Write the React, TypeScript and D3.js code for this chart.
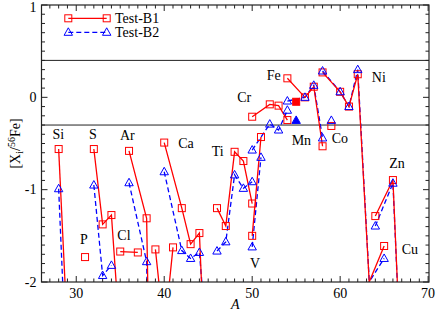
import React from "react";
import * as d3 from "d3";

// ---- data ----
const elements = ["Si", "P", "S", "Cl", "Ar", "K", "Ca", "Ti", "V", "Cr", "Fe", "Co", "Ni", "Cu", "Zn"];
const massNumbers: number[][] = [
  [28, 29], [31], [32, 33, 34, 36], [35, 37], [36, 38, 40], [39, 40, 41],
  [40, 42, 43, 44, 46], [46, 47, 48, 49, 50], [50, 51], [50, 52, 53, 54],
  [54, 56, 57, 58], [59], [58, 60, 61, 62, 64], [63, 65], [64, 66, 67],
];
const testB1: (number | null)[][] = [
  [-0.56, -2.56], [-1.73], [-0.56, -1.376, -1.275, -4.0], [-1.67, -1.68], [-0.58, -1.31, -12],
  [-1.647, -2.55, -1.625], [-0.49, -1.2, -1.59, -1.47, -6], [-1.2, -1.394, -0.59, -0.69, -1.15],
  [-1.5, -0.43], [-0.21, -0.076, -0.09, -0.246], [0.206, 0.0, 0.115, -0.53], [-0.31],
  [0.27, 0.06, -0.1, 0.25, -3.2], [-2.07, -1.61], [-1.286, -0.896, -3.1],
];
const testB2: (number | null)[][] = [
  [-0.99, -3.2], [null], [-0.95, -1.93, -1.82, null], [null, null], [-0.925, -1.78, -12],
  [null, null, null], [-0.806, -1.66, -1.745, -1.68, -4], [-1.665, -1.565, -0.84, -0.986, -0.914],
  [-1.62, -0.65], [-0.571, -0.29, -0.354, -0.14], [-0.04, 0.0, 0.13, -0.44], [-0.25],
  [0.285, 0.06, -0.1, 0.3, -3.2], [-2.045, -1.745], [-1.394, -0.93, -3.1],
];
const mnMass = 55;
const mnB1 = -0.048;
const mnB2 = -0.25;
const refLines = [0.4, -0.3];
const xTickLabels = [30, 40, 50, 60, 70];
const yTickLabels = [1, 0, -1, -2];
const seriesNames = ["Test-B1", "Test-B2"];
// element label anchors (A, value)
const labelA = [27.3, 30.43, 31.45, 34.67, 34.97, null, 41.6, 45.4, 49.75, 48.3, 51.65, 59.04, 63.6, 67.0, 65.59];
const labelV = [-0.452, -1.589, -0.452, -1.546, -0.463, null, -0.549, -0.636, -1.849, -0.046, 0.187, -0.495, 0.166, -1.698, -0.766];
const extraLabel = { text: "Mn", a: 54.49, v: -0.517 };

const W = 436, H = 311;
const L = 41.5, R = 429, T = 5, B = 282;
const RED = "#ff0000", BLUE = "#0000ff";
const FONT = "'Liberation Serif', 'Times New Roman', serif";

export default function App() {
  const x = d3.scaleLinear().domain([26.05, 70.1]).range([L, R]);
  const y = d3.scaleLinear().domain([-2, 1]).range([B, T]);
  const line = d3.line<[number, number | null]>()
    .defined((d) => d[1] !== null)
    .x((d) => x(d[0]))
    .y((d) => y(d[1] as number));

  const sq = (cx: number, cy: number, key: string, filled = false) => (
    <rect key={key} x={cx - 3.5} y={cy - 3.5} width={7} height={7}
      fill={filled ? RED : "none"} stroke={RED} strokeWidth={1} />
  );
  const tri = (cx: number, cy: number, key: string, filled = false) => (
    <path key={key} d={`M${cx},${cy - 4.5}L${cx + 4.2},${cy + 3}L${cx - 4.2},${cy + 3}Z`}
      fill={filled ? BLUE : "none"} stroke={BLUE} strokeWidth={1} />
  );

  const xMinor = d3.range(27, 71, 1);
  const yMinor = d3.range(-20, 11, 1).map((v) => v / 10);

  return (
    <svg width={W} height={H} style={{ position: "absolute", left: 0, top: 0 }}>
      <defs>
        <clipPath id="plot"><rect x={L} y={T} width={R - L} height={B - T} /></clipPath>
      </defs>
      <rect x={0} y={0} width={W} height={H} fill="#fff" />
      {/* reference lines */}
      {refLines.map((v) => (
        <line key={v} x1={L} x2={R} y1={y(v)} y2={y(v)} stroke="#222" strokeWidth={1} />
      ))}
      <g clipPath="url(#plot)">
        {massNumbers.map((ms, i) => {
          const d2 = ms.map((m, j) => [m, testB2[i][j]] as [number, number | null]);
          return <path key={"b2" + i} d={line(d2) || ""} fill="none" stroke={BLUE} strokeWidth={1.3} strokeDasharray="5,3" />;
        })}
        {massNumbers.map((ms, i) => {
          const d1 = ms.map((m, j) => [m, testB1[i][j]] as [number, number | null]);
          return <path key={"b1" + i} d={line(d1) || ""} fill="none" stroke={RED} strokeWidth={1.3} />;
        })}
        {massNumbers.map((ms, i) => ms.map((m, j) => {
          const v = testB1[i][j];
          return v === null ? null : sq(x(m), y(v), `s${i}-${j}`);
        }))}
        {massNumbers.map((ms, i) => ms.map((m, j) => {
          const v = testB2[i][j];
          return v === null ? null : tri(x(m), y(v), `t${i}-${j}`);
        }))}
        {sq(x(mnMass), y(mnB1), "mn1", true)}
        {tri(x(mnMass), y(mnB2), "mn2", true)}
      </g>
      {/* frame */}
      <rect x={L} y={T} width={R - L} height={B - T} fill="none" stroke="#222" strokeWidth={1.2} />
      {/* ticks */}
      {xMinor.map((v) => {
        const len = v % 10 === 0 ? 6 : 3.5;
        return (
          <g key={"xt" + v}>
            <line x1={x(v)} x2={x(v)} y1={B} y2={B - len} stroke="#222" />
            <line x1={x(v)} x2={x(v)} y1={T} y2={T + len} stroke="#222" />
          </g>
        );
      })}
      {yMinor.map((v) => {
        const len = Math.abs(v - Math.round(v)) < 1e-6 ? 6 : 3.5;
        return (
          <g key={"yt" + v}>
            <line x1={L} x2={L + len} y1={y(v)} y2={y(v)} stroke="#222" />
            <line x1={R} x2={R - len} y1={y(v)} y2={y(v)} stroke="#222" />
          </g>
        );
      })}
      {xTickLabels.map((v) => (
        <text key={"xl" + v} x={x(v)} y={297.5} textAnchor="middle" fontFamily={FONT} fontSize={14}>{v}</text>
      ))}
      {yTickLabels.map((v) => (
        <text key={"yl" + v} x={36.5} y={Math.max(y(v) + 4.8, 12)} textAnchor="end" fontFamily={FONT} fontSize={14}>{v}</text>
      ))}
      <text x={(L + R) / 2} y={309} textAnchor="middle" fontFamily={FONT} fontSize={14} fontStyle="italic">A</text>
      <text transform={`translate(20,${y(-0.5)}) rotate(-90)`} textAnchor="middle" fontFamily={FONT} fontSize={14}>
        [X<tspan fontSize={10} dy={3}>i</tspan><tspan dy={-3}>/</tspan><tspan fontSize={10} dy={-5}>56</tspan><tspan dy={5}>Fe]</tspan>
      </text>
      {/* element labels */}
      {elements.map((el, i) => labelA[i] === null ? null : (
        <text key={"el" + el} x={x(labelA[i] as number)} y={y(labelV[i] as number)} fontFamily={FONT} fontSize={14}>{el}</text>
      ))}
      <text x={x(extraLabel.a)} y={y(extraLabel.v)} fontFamily={FONT} fontSize={14}>{extraLabel.text}</text>
      {/* legend */}
      <line x1={68.3} x2={106.7} y1={18.3} y2={18.3} stroke={RED} strokeWidth={1.3} />
      {sq(68.3, 18.3, "lg1a")}
      {sq(106.7, 18.3, "lg1b")}
      <text x={115} y={23} fontFamily={FONT} fontSize={14}>{seriesNames[0]}</text>
      <line x1={68.3} x2={106.7} y1={32.3} y2={32.3} stroke={BLUE} strokeWidth={1.3} strokeDasharray="5,3" />
      {tri(68.3, 32.3, "lg2a")}
      {tri(106.7, 32.3, "lg2b")}
      <text x={115} y={37} fontFamily={FONT} fontSize={14}>{seriesNames[1]}</text>
    </svg>
  );
}
